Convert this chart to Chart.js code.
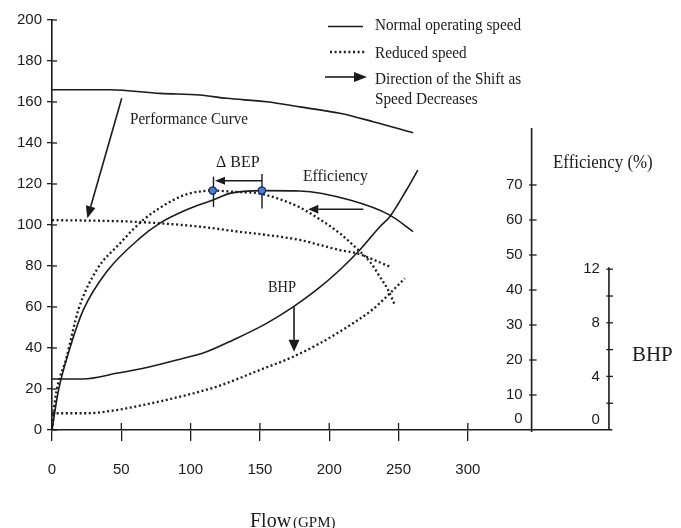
<!DOCTYPE html>
<html><head><meta charset="utf-8">
<script src="https://cdn.jsdelivr.net/npm/chart.js@4.4.1/dist/chart.umd.min.js"></script>
<style>html,body{margin:0;padding:0;background:#fff;}canvas{display:block;}</style>
</head><body>
<canvas id="c" width="681" height="528"></canvas>
<script>
// ---- tick labels ----
const flowTicks = [0, 50, 100, 150, 200, 250, 300];
const headTicks = [0, 20, 40, 60, 80, 100, 120, 140, 160, 180, 200];
const effTicks = [0, 10, 20, 30, 40, 50, 60, 70];
const bhpTicks = [0, 2, 4, 6, 8, 10, 12];
const bhpLabelled = [0, 4, 8, 12];

// ---- performance (head) curves ----
const headNormalFlow = [0, 41.8, 77.9, 106.7, 126, 154.8, 180, 207.6, 231.7, 260.5];
const headNormal     = [166, 166, 164.2, 163.4, 161.8, 160.1, 157.5, 154.5, 150.4, 145];
const headReducedFlow = [0, 58.6, 106.7, 130.7, 178.8, 198, 207.6, 219.7, 243.7];
const headReduced     = [102.4, 101.6, 99.2, 97.1, 92.7, 89.4, 87.8, 86.2, 79.7];

// ---- efficiency curves (%) ----
const effNormalFlow = [0, 4.5, 13, 22.6, 39.4, 63.4, 77.9, 97.1, 116.1, 128.4, 151.4, 178.8, 214.9, 243.7, 260.5];
const effNormal     = [0, 11, 23.5, 34.3, 45.2, 54.8, 59.1, 62.9, 65.7, 67.6, 68.4, 68.3, 65.7, 61.4, 56.7];
const effReducedFlow = [0, 2.2, 10.6, 19, 32.2, 49, 65.8, 87.5, 99.5, 115.9, 133.4, 147.8, 155, 169.4, 178.8, 193.2, 207.6, 219.7, 229.3, 236.5, 242.5, 247.3];
const effReduced     = [0, 8.6, 20.9, 34.3, 45.7, 53.3, 60, 65.7, 67.6, 68.4, 68, 67.7, 67.1, 65.2, 63.6, 60.2, 56.2, 51.9, 48.1, 43.8, 40, 35.7];

// ---- BHP curves ----
const bhpNormalFlow = [0, 22.4, 46.6, 70.7, 90, 111.5, 130.7, 154.8, 174, 190.8, 207.6, 222, 236.5, 243.7, 255.7, 263.9];
const bhpNormal     = [3.81, 3.81, 4.23, 4.72, 5.22, 5.84, 6.72, 7.96, 9.19, 10.45, 11.94, 13.43, 15.17, 15.92, 17.91, 19.4];
const bhpReducedFlow = [0, 25, 46.6, 65.8, 97.1, 118.7, 150, 174, 193.2, 207.6, 231.7, 241.3, 254.5];
const bhpReduced     = [1.25, 1.25, 1.49, 1.87, 2.61, 3.23, 4.48, 5.47, 6.47, 7.34, 9.03, 9.95, 11.32];

// ---- best efficiency points (reduced, normal) ----
const bepFlow = [115.9, 151.4];
const bepEff  = [68.4, 68.4];

// ---- secondary axes placement (flow value where they stand) ----
const effAxisFlow = 346;
const effAxisTop = 86.3;
const bhpAxisFlow = 401.8;
const bhpAxisTop = 12.15;

// ---- annotation arrows, in (flow, head) units ----
const arrows = [
  {from: [50.3, 161.8], to: [25.5, 103.3], len: 12, half: 5},
  {from: [224.6, 107.7], to: [184.9, 107.7], len: 10, half: 4.5},
  {from: [174.6, 60.1], to: [174.6, 38.2], len: 12, half: 5.5},
  {from: [151.5, 121.6], to: [117.6, 121.6], len: 10, half: 4}
];
const bepMarks = [
  {flow: 116.5, top: 123.6, bottom: 108.8},
  {flow: 151.5, top: 124.9, bottom: 108}
];

const ink = '#1b1b1b';
const serif = '"Liberation Serif", "Times New Roman", serif';
const sans = '"Liberation Sans", Arial, sans-serif';

function pts(xs, ys) { return xs.map((x, i) => ({x: x, y: ys[i]})); }

function solid(label, data, yAxisID) {
  return {label, data, yAxisID, borderColor: ink, borderWidth: 1.6, pointRadius: 0,
    cubicInterpolationMode: 'monotone', fill: false};
}
function dotted(label, data, yAxisID) {
  return {label, data, yAxisID, borderColor: ink, borderWidth: 2.3, borderDash: [2, 2.6],
    pointRadius: 0, cubicInterpolationMode: 'monotone', fill: false};
}

function txt(ctx, s, x, y, size, sx, family, align, base) {
  ctx.save();
  ctx.translate(x, y);
  ctx.scale(sx, 1);
  ctx.font = size + 'px ' + family;
  ctx.fillStyle = ink;
  ctx.textAlign = align || 'left';
  ctx.textBaseline = base || 'middle';
  ctx.fillText(s, 0, 0);
  ctx.restore();
}
function line(ctx, x1, y1, x2, y2, w) {
  ctx.beginPath(); ctx.moveTo(x1, y1); ctx.lineTo(x2, y2);
  ctx.lineWidth = w || 1.5; ctx.strokeStyle = ink; ctx.stroke();
}
function arrow(ctx, x1, y1, x2, y2, len, half, w) {
  const a = Math.atan2(y2 - y1, x2 - x1);
  const bx = x2 - len * Math.cos(a), by = y2 - len * Math.sin(a);
  line(ctx, x1, y1, bx, by, w || 1.6);
  ctx.beginPath();
  ctx.moveTo(x2, y2);
  ctx.lineTo(bx + half * Math.sin(a), by - half * Math.cos(a));
  ctx.lineTo(bx - half * Math.sin(a), by + half * Math.cos(a));
  ctx.closePath(); ctx.fillStyle = ink; ctx.fill();
}

const overlay = {
  id: 'overlay',
  afterDraw(chart) {
    const ctx = chart.ctx;
    const sx = chart.scales.x, sy = chart.scales.y, se = chart.scales.yEff, sb = chart.scales.yBhp;
    ctx.save();
    ctx.lineCap = 'butt';
    // inner halves of tick marks on main axes
    const x0 = sx.getPixelForValue(0);
    headTicks.forEach(v => { const y = sy.getPixelForValue(v); line(ctx, x0, y, x0 + 5, y, 1.3); });
    const yb = sy.getPixelForValue(0);
    flowTicks.forEach(v => { const x = sx.getPixelForValue(v); line(ctx, x, yb - 7, x, yb, 1.3); });

    // efficiency axis
    const xe = sx.getPixelForValue(effAxisFlow);
    line(ctx, xe, se.getPixelForValue(effAxisTop), xe, yb + 2, 1.6);
    effTicks.forEach(v => {
      const y = se.getPixelForValue(v);
      if (v > 0) line(ctx, xe - 2.5, y, xe + 5, y, 1.3);
      txt(ctx, String(v), xe - 9, v === 0 ? y - 11 : y, 15, 1, sans, 'right');
    });
    // BHP axis
    const xh = sx.getPixelForValue(bhpAxisFlow);
    line(ctx, xh, sb.getPixelForValue(bhpAxisTop), xh, yb, 1.6);
    bhpTicks.forEach(v => {
      const y = sb.getPixelForValue(v);
      if (v > 0) line(ctx, xh - 2.6, y, xh + 4, y, 1.3);
    });
    bhpLabelled.forEach(v => {
      const y = sb.getPixelForValue(v);
      txt(ctx, String(v), xh - 9, v === 0 ? y - 10 : y, 15, 1, sans, 'right');
    });

    // BEP verticals
    bepMarks.forEach(m => {
      const x = sx.getPixelForValue(m.flow);
      line(ctx, x, sy.getPixelForValue(m.top), x, sy.getPixelForValue(m.bottom), 1.4);
    });
    // arrows
    arrows.forEach(a => {
      arrow(ctx, sx.getPixelForValue(a.from[0]), sy.getPixelForValue(a.from[1]),
        sx.getPixelForValue(a.to[0]), sy.getPixelForValue(a.to[1]), a.len, a.half, 1.6);
    });

    // redraw BEP markers on top
    const meta = chart.getDatasetMeta(chart.data.datasets.length - 1);
    meta.data.forEach(p => {
      ctx.beginPath(); ctx.arc(p.x, p.y, 3.6, 0, Math.PI * 2);
      ctx.fillStyle = '#4d7bd3'; ctx.fill();
      ctx.lineWidth = 1.2; ctx.strokeStyle = '#1d2b66'; ctx.stroke();
    });

    // labels
    txt(ctx, 'Performance Curve', 130, 120, 16, 0.945, serif);
    txt(ctx, '\u0394 BEP', 216, 163, 16, 1, serif);
    txt(ctx, 'Efficiency', 303, 177, 17, 0.92, serif);
    txt(ctx, 'BHP', 268, 288, 16, 0.9, serif);
    txt(ctx, 'Efficiency (%)', 553, 163, 18, 0.94, serif);
    txt(ctx, 'BHP', 632, 355, 22, 0.95, serif);
    txt(ctx, 'Flow', 250, 527, 20, 1, serif, 'left', 'alphabetic');
    txt(ctx, '(GPM)', 293, 527, 15, 1, serif, 'left', 'alphabetic');

    // legend
    line(ctx, 328, 26.5, 363, 26.5, 1.6);
    ctx.save(); ctx.setLineDash([2, 2.6]); line(ctx, 330, 52, 365, 52, 2.3); ctx.restore();
    arrow(ctx, 325, 77, 367, 77, 13, 5, 1.6);
    txt(ctx, 'Normal operating speed', 375, 26, 16, 0.95, serif);
    txt(ctx, 'Reduced speed', 375, 54, 16, 0.95, serif);
    txt(ctx, 'Direction of the Shift as', 375, 80, 16, 0.95, serif);
    txt(ctx, 'Speed Decreases', 375, 100, 16, 0.95, serif);
    ctx.restore();
  }
};

new Chart(document.getElementById('c'), {
  type: 'line',
  data: {
    datasets: [
      solid('Head, normal speed', pts(headNormalFlow, headNormal), 'y'),
      dotted('Head, reduced speed', pts(headReducedFlow, headReduced), 'y'),
      solid('Efficiency, normal speed', pts(effNormalFlow, effNormal), 'yEff'),
      dotted('Efficiency, reduced speed', pts(effReducedFlow, effReduced), 'yEff'),
      solid('BHP, normal speed', pts(bhpNormalFlow, bhpNormal), 'yBhp'),
      dotted('BHP, reduced speed', pts(bhpReducedFlow, bhpReduced), 'yBhp'),
      {label: 'BEP', data: pts(bepFlow, bepEff), yAxisID: 'yEff', showLine: false,
        pointRadius: 3.6, pointBackgroundColor: '#4d7bd3', pointBorderColor: '#1d2b66', pointBorderWidth: 1.2}
    ]
  },
  options: {
    responsive: false, animation: false, devicePixelRatio: 1,
    layout: {padding: {top: 20, right: 69, left: 0, bottom: 0}},
    plugins: {legend: {display: false}, tooltip: {enabled: false}},
    scales: {
      x: {
        type: 'linear', min: 0, max: 404,
        afterFit(s) { s.height = 98; },
        afterBuildTicks(s) { s.ticks = flowTicks.map(v => ({value: v})); },
        grid: {drawOnChartArea: false, tickLength: 11, color: ink, lineWidth: 1.3},
        border: {color: ink, width: 1.6},
        ticks: {font: {family: sans, size: 15}, color: ink, padding: 20, maxRotation: 0, autoSkip: false}
      },
      y: {
        min: 0, max: 200,
        afterFit(s) { s.width = 52; },
        afterBuildTicks(s) { s.ticks = headTicks.map(v => ({value: v})); },
        grid: {drawOnChartArea: false, tickLength: 5, color: ink, lineWidth: 1.3},
        border: {color: ink, width: 1.6},
        ticks: {font: {family: sans, size: 15}, color: ink, padding: 5}
      },
      yEff: {display: false, min: 0, max: 117.14, position: 'right'},
      yBhp: {display: false, min: 0, max: 30.6, position: 'right'}
    }
  },
  plugins: [overlay]
});
</script>
</body></html>
